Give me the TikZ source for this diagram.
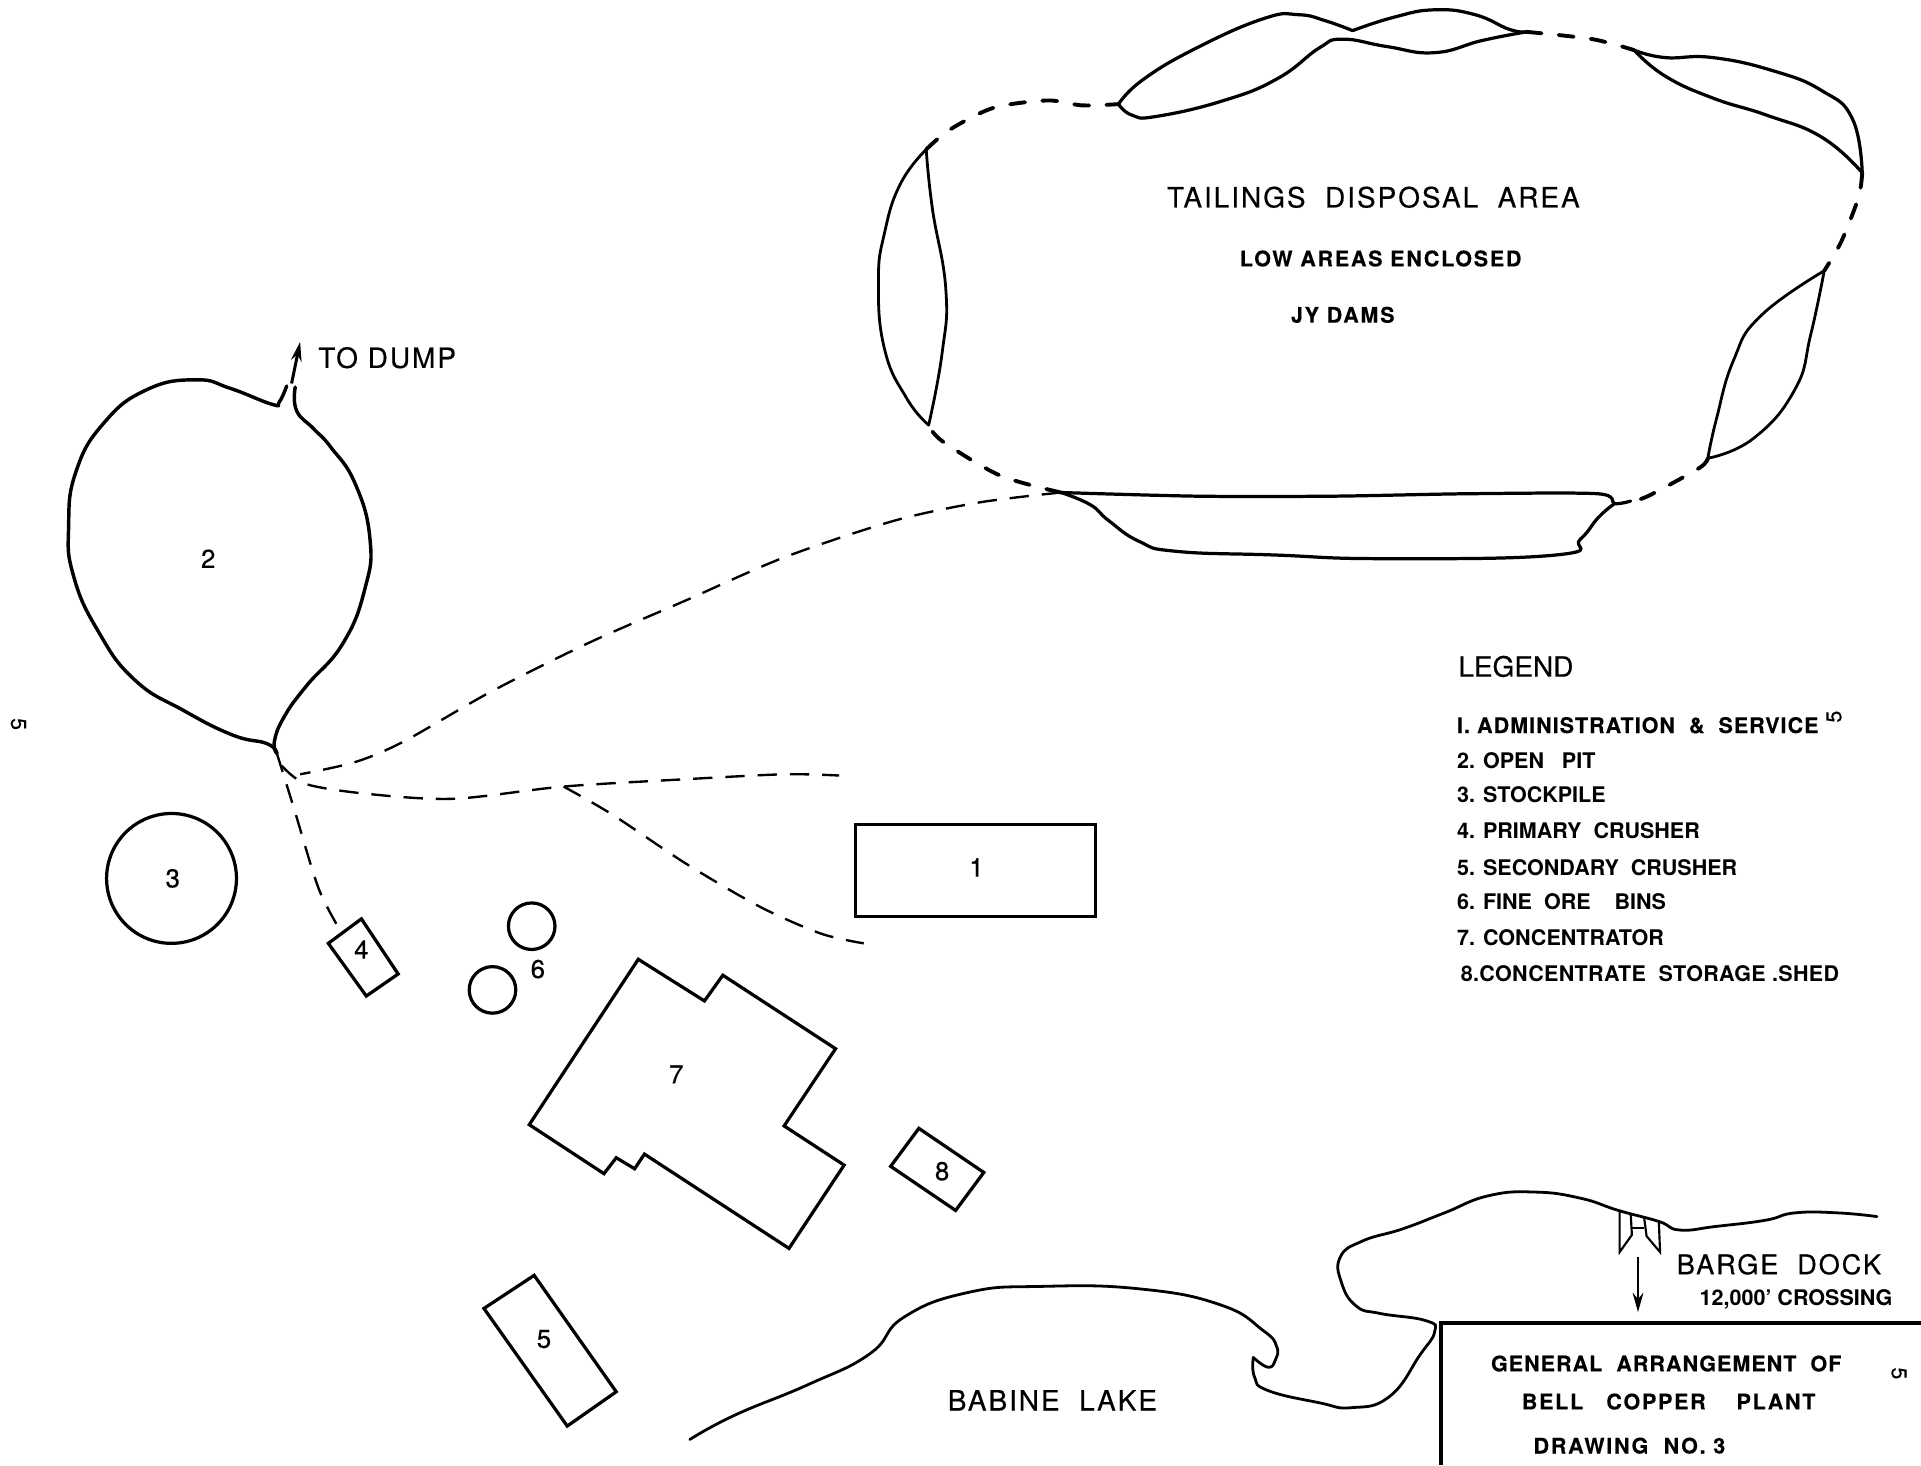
\documentclass[tikz,border=0pt]{standalone}
\usepackage{fontspec}
\usepackage{tikz}
\setmainfont{TeX Gyre Heros}
\newfontfamily\headfont[LetterSpace=7,FakeBold=0.4]{TeX Gyre Heros}
\newfontfamily\notefont[LetterSpace=8,FakeBold=0.2]{TeX Gyre Heros Bold}
\newfontfamily\rowfont[LetterSpace=4.7,FakeBold=0.2]{TeX Gyre Heros Bold}
\newfontfamily\tightfont[LetterSpace=1.5]{TeX Gyre Heros Bold}
\newfontfamily\numfont[FakeBold=0.4]{TeX Gyre Heros}
\usetikzlibrary{arrows.meta, calc}

\begin{document}
\begin{tikzpicture}[
    x=0.02cm, y=-0.02cm,
    every node/.style={font=\fontsize{11}{13}\selectfont, inner sep=0pt},
    curve/.style={smooth, tension=0.8},
    shore/.style={line width=1.3pt, line join=round, line cap=round},
    pitrim/.style={line width=1.6pt, line join=round, line cap=round},
    dam/.style={line width=1.5pt, line cap=round},
    thin dam/.style={line width=1.3pt, line cap=round},
    dyke gap/.style={line width=1.8pt, line cap=round, dash pattern=on 7pt off 8pt},
    haul/.style={line width=1.1pt, dash pattern=on 9pt off 6pt},
    plant/.style={line width=1.5pt, line join=miter},
    number/.style={font=\fontsize{12}{14}\numfont},
    headline/.style={font=\fontsize{13}{15}\headfont},
    noteline/.style={font=\fontsize{10}{12}\notefont},
    legendrow/.style={anchor=west, font=\fontsize{10}{12}\selectfont\bfseries},
    pagemark/.style={rotate=-90, font=\fontsize{10}{12}\numfont}
]
    \useasboundingbox (0,0) rectangle (1568,1196);

    % junctions
    \coordinate (damW) at (913,85);
    \coordinate (damN) at (1246,26);
    \coordinate (damNE) at (1334,41);
    \coordinate (damE) at (1520,141);
    \coordinate (damR) at (1489,221);
    \coordinate (damRb) at (1394,374);
    \coordinate (damSE) at (1331,409);
    \coordinate (damS) at (866,402);
    \coordinate (damLb) at (758,347);
    \coordinate (damL) at (756,122);
    \coordinate (pitfoot) at (226,615);
    \coordinate (fork) at (460,642);

    % dams round the tailings area
    \draw[dam] plot[curve] coordinates {(damW) (933,65) (977,39) (1032,15) (1060,12) (1082,17) (1104,25)};
    \draw[dam] plot[curve] coordinates {(1104,25) (1138,14) (1171,8) (1204,12) (1232,24) (damN)};
    \draw[dam] plot[curve] coordinates {(damW) (924,94) (944,95) (999,82) (1043,64) (1077,39) (1096,32) (1132,38) (1171,43) (1210,33) (damN)};
    \draw[dam] plot[curve] coordinates {(damNE) (1359,47) (1398,47) (1448,58) (1487,74) (1512,97) (damE)};
    \draw[dam] plot[curve] coordinates {(damNE) (1359,62) (1398,80) (1442,94) (1487,112) (damE)};
    \draw[thin dam] plot[curve] coordinates {(damR) (1437,258) (1415,294) (1401,342) (damRb)};
    \draw[thin dam] plot[curve] coordinates {(damR) (1478,273) (1465,318) (1431,358) (damRb)};
    \draw[dam] plot[smooth] coordinates {(damS) (977,405) (1088,405) (1199,403) (1304,403) (1318,411) (damSE)};
    \draw[dam] plot[curve] coordinates {(damS) (890,412) (905,425) (930,442) (960,450) (1040,453) (1130,456) (1270,453) (1290,440) (1305,422) (1318,411)};
    \draw[thin dam] plot[curve] coordinates {(damL) (735,150) (722,190) (717,230) (722,285) (740,325) (damLb)};
    \draw[thin dam] plot[curve] coordinates {(damL) (761,170) (772,236) (769,288) (damLb)};

    % open stretches
    \draw[dyke gap] plot[smooth] coordinates {(damN) (1300,32) (damNE)};
    \draw[dyke gap] plot[smooth] coordinates {(damE) (1517,161) (1503,197) (damR)};
    \draw[dyke gap] plot[smooth] coordinates {(damRb) (1387,382) (1345,405) (damSE)};
    \draw[dyke gap] plot[smooth] coordinates {(damS) (816,388) (769,360) (damLb)};
    \draw[dyke gap] plot[smooth] coordinates {(damL) (775,106) (811,88) (855,82) (883,86) (damW)};

    % open pit
    \draw[pitrim] plot[curve] coordinates {(pitfoot) (218,607) (190,600) (150,580) (110,555) (80,515) (60,470) (56,430) (62,385) (85,345) (120,318) (160,310) (188,317) (222,330) (228,328) (234,315)};
    \draw[pitrim] plot[curve] coordinates {(pitfoot) (224,605) (232,585) (250,560) (280,525) (298,480) (302,440) (290,395) (270,365) (256,350) (242,335) (241,316)};
    \coordinate (dumpstart) at (238,313);
    \coordinate (dumpend) at (245,279);
    \draw[line width=1.4pt, -{Stealth[length=9pt,width=5pt]}] (dumpstart) -- (dumpend);

    % haul roads
    \draw[haul] plot[smooth] coordinates {(damS) (800,410) (730,425) (640,455) (560,490) (480,525) (400,565) (330,605) (290,622) (245,632)};
    \draw[haul] plot[smooth] coordinates {(230,625) (250,640) (300,648) (370,652) (fork) (560,636) (640,632) (685,633)};
    \draw[haul] plot[smooth] coordinates {(fork) (500,665) (560,705) (620,740) (670,762) (705,770)};
    \draw[haul] plot[smooth] coordinates {(pitfoot) (240,660) (260,725) (278,760)};

    % plant buildings
    \draw[plant] (698,673) rectangle (894,748);
    \draw[plant] (140,717) circle (53);
    \draw[plant] (268,770) -- (295,750) -- (325,795) -- (299,813) -- cycle;
    \draw[plant] (434,756) circle (19);
    \draw[plant] (402,808) circle (19);
    \draw[plant] (521,783) -- (575,817) -- (590,796) -- (682,856) -- (640,919) -- (689,951) -- (644,1019) -- (526,942) -- (518,954) -- (503,945) -- (493,958) -- (432,918) -- cycle;
    \draw[plant] (750,921) -- (803,957) -- (780,988) -- (727,952) -- cycle;
    \draw[plant] (436,1041) -- (503,1136) -- (463,1164) -- (395,1068) -- cycle;

    % lake shore and dock
    \coordinate (cove) at (1023,1108);
    \draw[shore] plot[curve] coordinates {(563,1175) (600,1155) (660,1130) (710,1105) (738,1075) (790,1055) (850,1050) (930,1052) (996,1065) (1031,1086) (1042,1099) (1041,1110) (1035,1116) (cove)};
    \draw[shore] plot[curve] coordinates {(cove) (1024,1124) (1035,1135) (1077,1145) (1103,1149) (1134,1140) (1159,1106) (1171,1087) (1164,1078) (1126,1072) (1107,1066) (1095,1047) (1094,1026) (1112,1013) (1145,1003) (1179,990) (1215,976) (1253,973) (1290,978) (1321,988) (1354,997) (1371,1004) (1401,1001) (1441,996) (1465,990) (1500,990) (1532,993)};
    \draw[line width=1pt] (1322,989) -- (1322,1022) -- (1332,1008) -- (1331,990);
    \draw[line width=1pt] (1354,997) -- (1355,1022) -- (1344,1009) -- (1342,994);
    \draw[line width=1pt] (1332,1002) -- (1342,1002);
    \coordinate (crossingtop) at (1337,1026);
    \coordinate (crossingend) at (1337,1071);
    \draw[line width=1.1pt, -{Stealth[length=9pt,width=5pt]}] (crossingtop) -- (crossingend);

    % title block
    \draw[line width=1.7pt] (1176,1196) -- (1176,1080) -- (1568,1080);

    % labels
    \node[headline] (areatitle) at (1121,161) {TAILINGS\ \ DISPOSAL\ \ AREA};
    \node[noteline] (areanote) at (1127,211) {LOW AREAS ENCLOSED};
    \node[noteline] (areanoteb) at (1096,257) {JY DAMS};
    \node[headline] (todump) at (316,292) {TO DUMP};
    \node[number] (n1) at (797,708) {1};
    \node[number] (n2) at (170,456) {2};
    \node[number] (n3) at (141,717) {3};
    \node[number] (n4) at (295,775) {4};
    \node[number] (n5) at (444,1093) {5};
    \node[number] (n6) at (439,791) {6};
    \node[number] (n7) at (552,877) {7};
    \node[number] (n8) at (769,956) {8};
    \node[headline] (lake) at (859,1143) {BABINE\ \ LAKE};
    \node[headline, font=\fontsize{12.6}{15}\headfont] (dock) at (1452,1032) {BARGE\ \ DOCK};
    \node[font=\fontsize{10}{12}\selectfont\bfseries] (crossing) at (1466,1061) {12,000' CROSSING};
    \node[font=\fontsize{10}{12}\rowfont] (drawa) at (1360,1113) {GENERAL\ \ ARRANGEMENT\ \ OF};
    \node[noteline] (drawb) at (1362,1144) {BELL\ \ \ COPPER\ \ \ \ PLANT};
    \node[noteline] (drawc) at (1330,1180) {DRAWING\ \ NO. 3};

    % legend
    \node[anchor=west, font=\fontsize{13}{15}\numfont] (legend) at (1190,544) {LEGEND};
    \node[legendrow, font=\fontsize{10}{12}\rowfont] (row1) at (1189,592) {I. ADMINISTRATION\ \ \&\ \ SERVICE};
    \node[legendrow] (row2) at (1189,621) {2. OPEN\ \ \ PIT};
    \node[legendrow] (row3) at (1189,649) {3. STOCKPILE};
    \node[legendrow] (row4) at (1189,678) {4. PRIMARY\ \ CRUSHER};
    \node[legendrow] (row5) at (1189,708) {5. SECONDARY\ \ CRUSHER};
    \node[legendrow] (row6) at (1189,736) {6. FINE\ \ ORE\ \ \ \ BINS};
    \node[legendrow] (row7) at (1189,765) {7. CONCENTRATOR};
    \node[legendrow, font=\fontsize{10}{12}\tightfont] (row8) at (1192,795) {8.CONCENTRATE\ \ STORAGE .SHED};

    % stray page marks
    \node[pagemark] (markl) at (15,591) {5};
    \node[pagemark, rotate=180] (markm) at (1497,585) {5};
    \node[pagemark] (markr) at (1550,1121) {5};
\end{tikzpicture}
\end{document}
